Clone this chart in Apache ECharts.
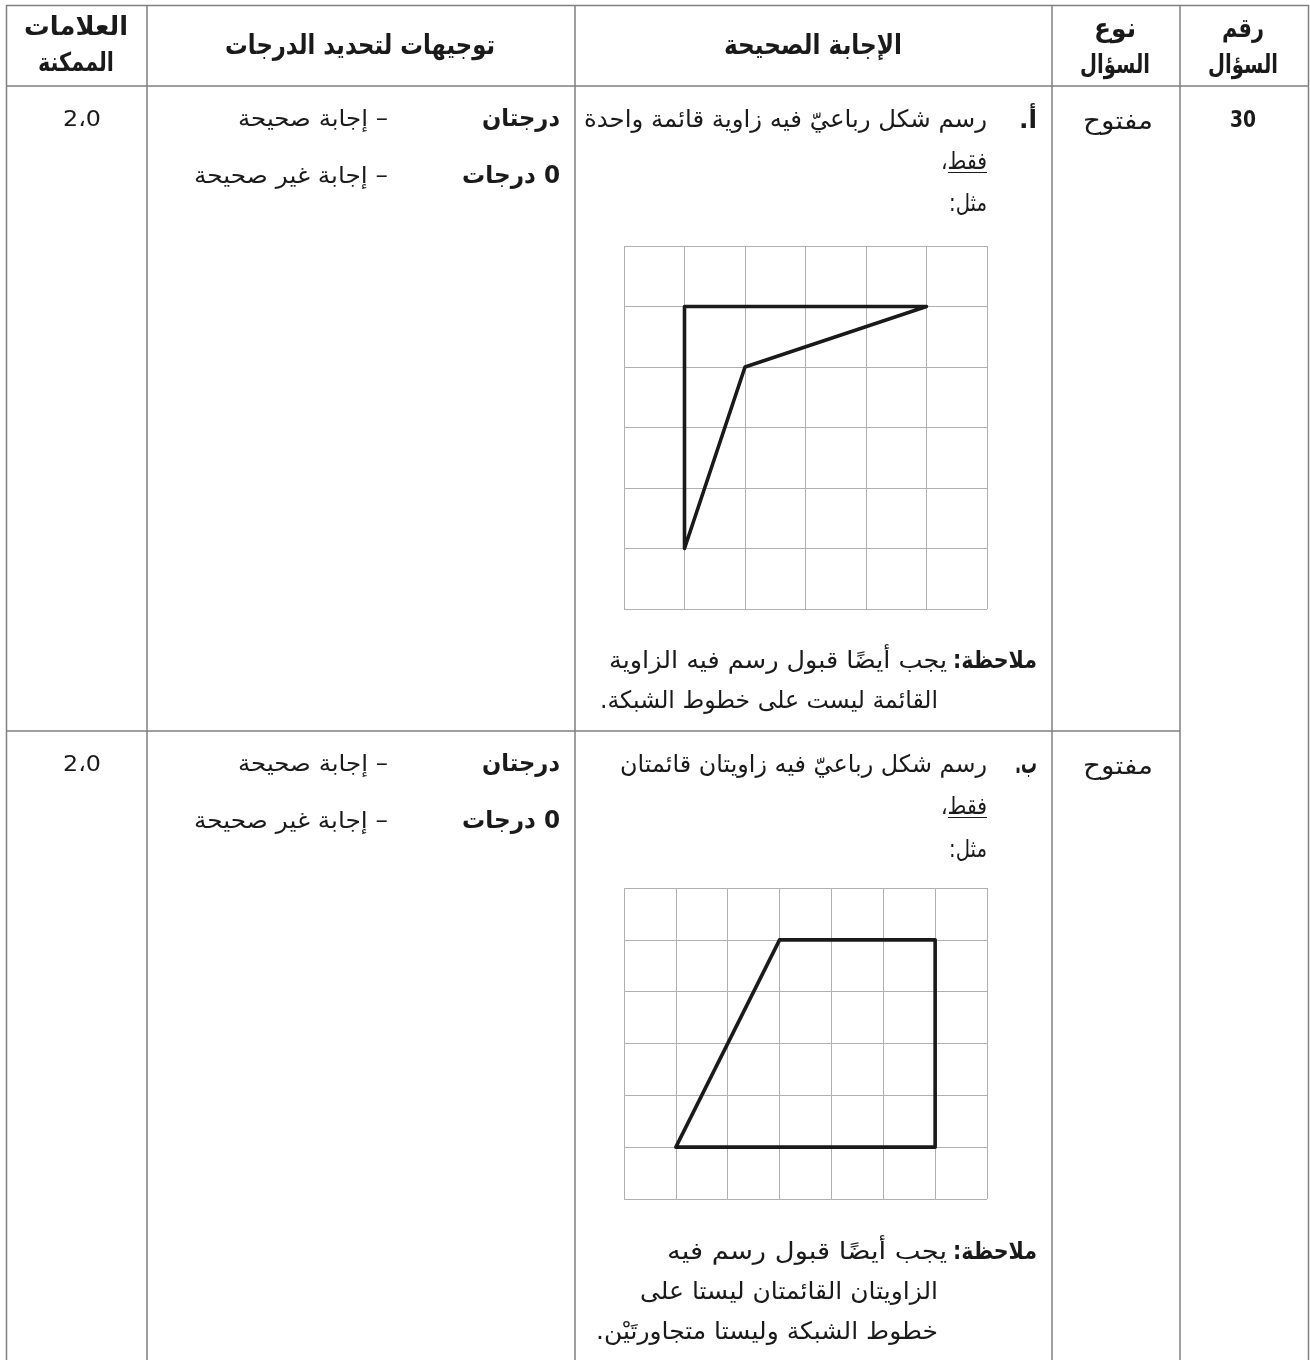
<!DOCTYPE html>
<html lang="ar">
<head>
<meta charset="utf-8">
<title>توجيهات لتحديد الدرجات</title>
<script src="https://cdn.jsdelivr.net/npm/echarts@6/dist/echarts.min.js"></script>
<style>
html,body{margin:0;padding:0;background:#fff;}
#main{width:1310px;height:1360px;}
</style>
</head>
<body>
<div id="main" dir="rtl"></div>
<script>
// نصوص الجدول
var headers = ['العلامات', 'الممكنة', 'توجيهات لتحديد الدرجات', 'الإجابة الصحيحة', 'نوع', 'السؤال', 'رقم', 'السؤال'];
var questionNo = '30';
var questionType = 'مفتوح';
var marks = '2،0';
var gradeLabels = ['درجتان', '0 درجات'];
var gradeTexts = ['– إجابة صحيحة', '– إجابة غير صحيحة'];
var partLabels = ['أ.', 'ب.'];
var partA = ['رسم شكل رباعيّ فيه زاوية قائمة واحدة', 'فقط،', 'مثل:'];
var partB = ['رسم شكل رباعيّ فيه زاويتان قائمتان', 'فقط،', 'مثل:'];
var noteLabel = 'ملاحظة:';
var noteA = ['يجب أيضًا قبول رسم فيه الزاوية', 'القائمة ليست على خطوط الشبكة.'];
var noteB = ['يجب أيضًا قبول رسم فيه', 'الزاويتان القائمتان ليستا على', 'خطوط الشبكة وليستا متجاورتَيْن.'];

// الشكلان الرباعيان (وحدات الشبكة)
var shapeA = [[1, 5], [5, 5], [2, 4], [1, 1], [1, 5]];
var shapeB = [[3, 5], [6, 5], [6, 1], [1, 1], [3, 5]];

var FONT = '"DejaVu Sans"';
var INK = '#1a1a1a';
var measure = document.createElement('canvas').getContext('2d');

// نص بمحاذاة محددة، يضغط أفقيا ليأخذ العرض المطلوب
function label(text, x, y, size, bold, align, width) {
    var font = (bold ? 'bold ' : '') + size + 'px ' + FONT;
    var scale = 1;
    if (width) {
        measure.font = font;
        scale = width / measure.measureText(text).width;
    }
    return {
        type: 'text', x: x, y: y, scaleX: scale, silent: true,
        style: {
            text: text, font: font, fill: INK,
            textAlign: align || 'right', textVerticalAlign: 'middle'
        }
    };
}

function rule(x1, y1, x2, y2, color, w) {
    return {
        type: 'line', silent: true,
        shape: {x1: x1, y1: y1, x2: x2, y2: y2},
        style: {stroke: color || '#7f7f7f', lineWidth: w || 1.5}
    };
}

var items = [];

// خطوط الجدول
[6.5, 147, 575, 1052, 1180, 1308.5].forEach(function (x) {
    items.push(rule(x, 5, x, 1360));
});
items.push(rule(6, 5.5, 1309, 5.5));
items.push(rule(6, 86, 1309, 86));
items.push(rule(6, 731, 1180, 731));

// الترويسة
items.push(label(headers[0], 76, 28, 26, true, 'center', 104));
items.push(label(headers[1], 76, 64, 26, true, 'center', 76));
items.push(label(headers[2], 360, 47, 27, true, 'center', 270));
items.push(label(headers[3], 813, 47, 27, true, 'center', 178));
items.push(label(headers[4], 1115, 30, 26, true, 'center', 42));
items.push(label(headers[5], 1115, 66, 26, true, 'center', 70));
items.push(label(headers[6], 1243, 30, 26, true, 'center', 42));
items.push(label(headers[7], 1243, 66, 26, true, 'center', 70));

items.push(label(questionNo, 1243, 121, 23, true, 'center', 26));
items.push(label(questionType, 1118, 122, 25, false, 'center', 70));
items.push(label(questionType, 1118, 767, 25, false, 'center', 70));

// صفان: أ و ب
[119, 764].forEach(function (y) {
    items.push(label(marks, 82, y + 1, 22, false, 'center', 38));
    items.push(label(gradeLabels[0], 560, y + 1, 24, true, 'right', 78));
    items.push(label(gradeLabels[1], 560, y + 58, 24, true, 'right', 98));
    items.push(label(gradeTexts[0], 388, y + 1, 23, false, 'right', 150));
    items.push(label(gradeTexts[1], 388, y + 58, 23, false, 'right', 194));
});

items.push(label(partLabels[0], 1037, 121, 25, true, 'right', 18));
items.push(label(partA[0], 987, 121, 24, false, 'right', 403));
items.push(label(partA[1], 987, 163, 24, false, 'right', 46));
items.push(rule(948, 172.5, 987, 172.5, INK, 1));
items.push(label(partA[2], 987, 205, 24, false, 'right', 38));
items.push(label(noteLabel, 1037, 662, 24, true, 'right', 84));
items.push(label(noteA[0], 947, 662, 24, false, 'right', 338));
items.push(label(noteA[1], 938, 702, 24, false, 'right', 338));

items.push(label(partLabels[1], 1037, 766, 28, true, 'right', 22));
items.push(label(partB[0], 987, 766, 24, false, 'right', 367));
items.push(label(partB[1], 987, 808, 24, false, 'right', 46));
items.push(rule(948, 817.5, 987, 817.5, INK, 1));
items.push(label(partB[2], 987, 851, 24, false, 'right', 38));
items.push(label(noteLabel, 1037, 1253, 24, true, 'right', 84));
items.push(label(noteB[0], 947, 1253, 24, false, 'right', 280));
items.push(label(noteB[1], 938, 1293, 24, false, 'right', 298));
items.push(label(noteB[2], 938, 1333, 24, false, 'right', 342));

function gridAxis(index, max) {
    return {
        type: 'value', gridIndex: index, min: 0, max: max, interval: 1,
        axisLabel: {show: false}, axisTick: {show: false},
        axisLine: {show: false},
        splitLine: {show: true, lineStyle: {color: '#b0b0b0', width: 1}}
    };
}

function shapeSeries(index, data) {
    return {
        type: 'line', xAxisIndex: index, yAxisIndex: index, data: data,
        symbol: 'none', silent: true, animation: false,
        lineStyle: {color: INK, width: 3.6, join: 'round', cap: 'round'}
    };
}

var myChart = echarts.init(document.getElementById('main'), null, {renderer: 'canvas'});
myChart.setOption({
    backgroundColor: '#fff',
    animation: false,
    tooltip: {show: false},
    grid: [
        {left: 624, top: 246, width: 363, height: 363},
        {left: 624, top: 888, width: 363, height: 311}
    ],
    xAxis: [gridAxis(0, 6), gridAxis(1, 7)],
    yAxis: [gridAxis(0, 6), gridAxis(1, 6)],
    series: [shapeSeries(0, shapeA), shapeSeries(1, shapeB)],
    graphic: {elements: items}
});
</script>
</body>
</html>
